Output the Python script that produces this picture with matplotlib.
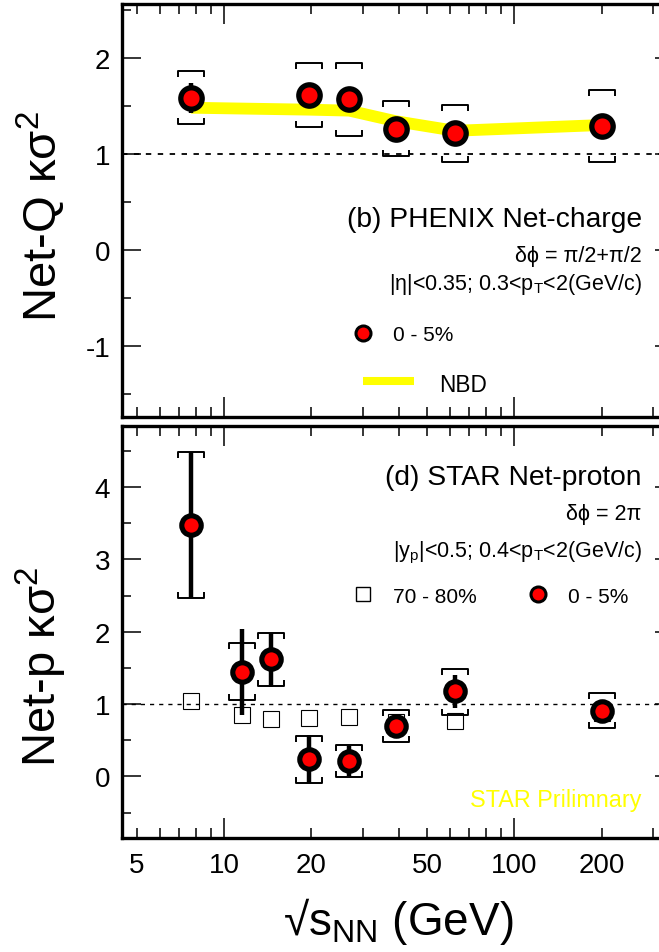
import matplotlib
matplotlib.use('Agg')
import numpy as np
from matplotlib import pyplot as plt
from matplotlib.path import Path
from matplotlib.ticker import FixedLocator, MultipleLocator, FuncFormatter, NullFormatter

plt.rcParams['font.family'] = ['Liberation Sans', 'DejaVu Sans']
plt.rcParams['mathtext.fontset'] = 'custom'
plt.rcParams['mathtext.rm'] = 'Liberation Sans'
plt.rcParams['mathtext.it'] = 'Liberation Sans:italic'
plt.rcParams['axes.unicode_minus'] = False

# PHENIX net-charge, 0-5%
phx_e = [7.7, 19.6, 27, 39, 62.4, 200]
phx_val = [1.58, 1.615, 1.57, 1.26, 1.22, 1.29]
phx_stat = [0.16, 0.05, 0.05, 0.05, 0.05, 0.05]
phx_sys_hi = [1.86, 1.95, 1.95, 1.545, 1.51, 1.66]
phx_sys_lo = [1.31, 1.28, 1.19, 0.98, 0.92, 0.92]
phx_nbd = [1.48, 1.46, 1.45, 1.34, 1.24, 1.30]

# STAR net-proton
star_e = [7.7, 11.5, 14.5, 19.6, 27, 39, 62.4, 200]
star_val = [3.47, 1.45, 1.62, 0.235, 0.22, 0.70, 1.18, 0.90]
star_stat_hi = [4.49, 2.04, 1.99, 0.57, 0.42, 0.75, 1.40, 0.95]
star_stat_lo = [2.47, 0.85, 1.235, -0.09, 0.0, 0.65, 0.945, 0.85]
star_sys_hi = [4.49, 1.85, 1.99, 0.56, 0.43, 0.92, 1.49, 1.15]
star_sys_lo = [2.47, 1.06, 1.25, -0.09, -0.01, 0.475, 0.85, 0.67]
star_periph = [1.04, 0.85, 0.80, 0.81, 0.82, 0.76, 0.77, 0.88]  # 70-80%

xlabels = {5: '5', 10: '10', 20: '20', 50: '50', 100: '100', 200: '200'}

W, H = 659, 953
fig = plt.figure(figsize=(W / 100, H / 100), dpi=100)


def fx(px):
    return px / W


def fy(py):
    return 1 - py / H


ax1 = fig.add_axes([fx(122), fy(418), fx(674 - 122), (418 - 5) / H])
ax2 = fig.add_axes([fx(122), fy(839), fx(674 - 122), (839 - 427.3) / H])

# bracket markers for systematic errors
br_top = Path([(-1, -0.46), (-1, 0), (1, 0), (1, -0.46)],
              [Path.MOVETO, Path.LINETO, Path.LINETO, Path.LINETO])
br_bot = Path([(-1, 0.46), (-1, 0), (1, 0), (1, 0.46)],
              [Path.MOVETO, Path.LINETO, Path.LINETO, Path.LINETO])


def setup(ax, ylim, labels, dash_lw):
    ax.set_xscale('log')
    ax.set_xlim(4.454, 354.8)
    ax.set_ylim(*ylim)
    ax.xaxis.set_major_locator(FixedLocator([10, 100]))
    ax.xaxis.set_minor_locator(FixedLocator([5, 6, 7, 8, 9, 20, 30, 40, 50, 60, 70, 80, 90, 200, 300]))
    if labels:
        f = FuncFormatter(lambda v, p: xlabels.get(int(round(v)), ''))
        ax.xaxis.set_major_formatter(f)
        ax.xaxis.set_minor_formatter(f)
    else:
        ax.xaxis.set_major_formatter(NullFormatter())
        ax.xaxis.set_minor_formatter(NullFormatter())
    ax.yaxis.set_major_locator(MultipleLocator(1))
    ax.yaxis.set_minor_locator(MultipleLocator(0.5))
    ax.yaxis.set_major_formatter(FuncFormatter(lambda v, p: '%d' % round(v)))
    ax.tick_params(which='both', direction='in', top=True, right=True, width=1.1,
                   labelsize=20)
    ax.tick_params(axis='x', which='major', length=14.4, pad=10)
    ax.tick_params(axis='x', which='minor', length=7.2, pad=10)
    ax.tick_params(axis='y', which='major', length=13.7, pad=8.6)
    ax.tick_params(axis='y', which='minor', length=6.5)
    for s in ax.spines.values():
        s.set_linewidth(2.4)
    ax.axhline(1, color='k', lw=dash_lw, dashes=(3.0, 3.6), zorder=1)


setup(ax1, (-1.74, 2.56), False, 1.3)
setup(ax2, (-0.85, 4.84), True, 1.0)

# top panel: PHENIX
ax1.plot(phx_e, phx_nbd, color='#ffff00', lw=8.5, solid_capstyle='butt', zorder=2)
ax1.errorbar(phx_e, phx_val, yerr=phx_stat, fmt='none', ecolor='k', elinewidth=3.2,
             capsize=0, zorder=3)
ax1.plot(phx_e, phx_sys_hi, ls='none', marker=br_top, ms=18.7, mfc='none', mec='k', mew=1.4, zorder=3)
ax1.plot(phx_e, phx_sys_lo, ls='none', marker=br_bot, ms=18.7, mfc='none', mec='k', mew=1.4, zorder=3)
ax1.plot(phx_e, phx_val, ls='none', marker='o', ms=15.4, mfc='#ff0000', mec='k', mew=3.8, zorder=4)

# bottom panel: STAR
ax2.plot(star_e, star_periph, ls='none', marker='s', ms=12, mfc='none', mec='k', mew=0.8, zorder=2)
ax2.errorbar(star_e, star_val,
             yerr=[np.subtract(star_val, star_stat_lo), np.subtract(star_stat_hi, star_val)],
             fmt='none', ecolor='k', elinewidth=3.2, capsize=0, zorder=3)
ax2.plot(star_e, star_sys_hi, ls='none', marker=br_top, ms=18.7, mfc='none', mec='k', mew=1.4, zorder=3)
ax2.plot(star_e, star_sys_lo, ls='none', marker=br_bot, ms=18.7, mfc='none', mec='k', mew=1.4, zorder=3)
ax2.plot(star_e, star_val, ls='none', marker='o', ms=14, mfc='#ff0000', mec='k', mew=3.7, zorder=4)

# texts, top panel
fig.text(fx(641.7), fy(226.7), '(b) PHENIX Net-charge', fontsize=20.3, ha='right', va='baseline')
fig.text(fx(641.7), fy(261.7), 'δϕ = π/2+π/2', fontsize=15.5, ha='right', va='baseline')
fig.text(fx(641.7), fy(290), r'|η|<0.35; 0.3<p$_{\mathrm{T}}$<2(GeV/c)', fontsize=15.5,
         ha='right', va='baseline')
fig.add_artist(plt.Line2D([fx(362.7)], [fy(334)], marker='o', ms=10.8, mfc='#ff0000', mec='k', mew=2.2))
fig.text(fx(393), fy(340.7), '0 - 5%', fontsize=15, ha='left', va='baseline')
fig.add_artist(plt.Line2D([fx(362.7), fx(414)], [fy(381.7), fy(381.7)], color='#ffff00', lw=5.8,
                          solid_capstyle='butt'))
fig.text(fx(439.3), fy(391.7), 'NBD', fontsize=16.3, ha='left', va='baseline')

# texts, bottom panel
fig.text(fx(641.7), fy(485), '(d) STAR Net-proton', fontsize=20.3, ha='right', va='baseline')
fig.text(fx(641.7), fy(520.3), 'δϕ = 2π', fontsize=15.5, ha='right', va='baseline')
fig.text(fx(641.7), fy(557.3), r'|y$_{\mathrm{p}}$|<0.5; 0.4<p$_{\mathrm{T}}$<2(GeV/c)', fontsize=15.5,
         ha='right', va='baseline')
fig.add_artist(plt.Line2D([fx(362.8)], [fy(595)], marker='s', ms=10.5, mfc='none', mec='k', mew=1.0))
fig.text(fx(393.1), fy(602.8), '70 - 80%', fontsize=15, ha='left', va='baseline')
fig.add_artist(plt.Line2D([fx(538)], [fy(595)], marker='o', ms=10.8, mfc='#ff0000', mec='k', mew=2.2))
fig.text(fx(568), fy(602.8), '0 - 5%', fontsize=15, ha='left', va='baseline')
fig.text(fx(641), fy(807.3), 'STAR Prilimnary', fontsize=16.8, color='#ffff00', ha='right', va='baseline')

# axis titles
fig.text(fx(41), fy(216.7), 'Net-Q κσ$^{2}$', fontsize=34, rotation=90, ha='center', va='center')
fig.text(fx(41), fy(667), 'Net-p κσ$^{2}$', fontsize=34, rotation=90, ha='center', va='center')
fig.text(fx(397.7), fy(935), r'√s$_{\mathrm{NN}}$ (GeV)', fontsize=33, ha='center', va='baseline')

plt.savefig('out.png', dpi=100)
